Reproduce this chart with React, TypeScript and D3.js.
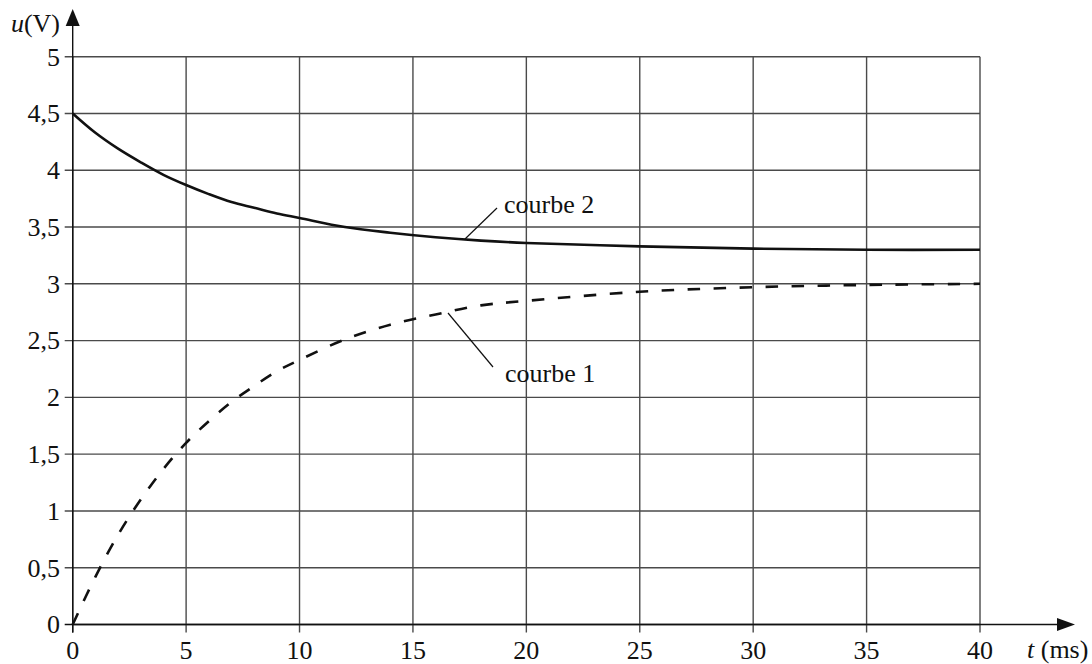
import React from "react";
import * as d3 from "d3";

const timeMs = [0, 1, 2, 3, 4, 5, 6, 7, 8, 9, 10, 12, 14, 16, 18, 20, 25, 30, 35, 40];
const courbe1 = [0, 0.42, 0.79, 1.1, 1.37, 1.6, 1.79, 1.96, 2.1, 2.23, 2.33, 2.51, 2.64, 2.73, 2.81, 2.85, 2.93, 2.97, 2.99, 3.0];
const courbe2 = [4.5, 4.33, 4.19, 4.07, 3.96, 3.87, 3.79, 3.72, 3.67, 3.62, 3.58, 3.5, 3.45, 3.41, 3.38, 3.36, 3.33, 3.31, 3.3, 3.3];
const xTicks = [0, 5, 10, 15, 20, 25, 30, 35, 40];
const yTicks = [0, 0.5, 1, 1.5, 2, 2.5, 3, 3.5, 4, 4.5, 5];

const W = 1092;
const H = 664;

export default function App() {
  const x = d3.scaleLinear().domain([0, 40]).range([72.7, 980]);
  const y = d3.scaleLinear().domain([0, 5]).range([624.5, 56.7]);
  const fmt = (v: number) => String(v).replace(".", ",");

  const line = d3
    .line<number>()
    .x((_, i) => x(timeMs[i]))
    .y((d) => y(d))
    .curve(d3.curveCatmullRom.alpha(0.5));

  const x0 = x(0);
  const y0 = y(0);
  const grid = "#4a4a4a";
  const fs = 26;
  const tp = { fontFamily: "Liberation Serif", fontSize: fs, fill: "#111" };

  return (
    <div style={{ position: "absolute", left: 0, top: 0, width: W, height: H, fontFamily: '"Liberation Serif"' }}>
      <svg width={W} height={H} style={{ display: "block", background: "#fff" }}>
        {yTicks.map((v) => (
          <line key={"h" + v} x1={x0 - 8} x2={x(40)} y1={y(v)} y2={y(v)} stroke={v === 0 ? "#111" : grid} strokeWidth={1.4} />
        ))}
        {xTicks.map((v) => (
          <line key={"v" + v} x1={x(v)} x2={x(v)} y1={y(5)} y2={y0 + 8} stroke={v === 0 ? "#111" : grid} strokeWidth={1.4} />
        ))}
        <line x1={x0} x2={x0} y1={y0 + 8} y2={22} stroke="#111" strokeWidth={1.4} />
        <line x1={x0} x2={1062} y1={y0} y2={y0} stroke="#111" strokeWidth={1.4} />
        <path d={`M${x0},9 L${x0 + 7},26 L${x0 - 7},26 Z`} fill="#111" />
        <path d={`M1075,${y0} L1057,${y0 - 6.5} L1057,${y0 + 6.5} Z`} fill="#111" />

        {yTicks.map((v) => (
          <text key={"yl" + v} x={60} y={y(v)} dy="0.34em" textAnchor="end" {...tp}>
            {fmt(v)}
          </text>
        ))}
        {xTicks.map((v) => (
          <text key={"xl" + v} x={x(v)} y={659} textAnchor="middle" {...tp}>
            {fmt(v)}
          </text>
        ))}

        <text x={60} y={32} textAnchor="end" {...tp}>
          <tspan fontStyle="italic">u</tspan>(V)
        </text>
        <text x={1027} y={658} {...tp}>
          <tspan fontStyle="italic">t</tspan> (ms)
        </text>

        <path d={line(courbe2) || ""} fill="none" stroke="#111" strokeWidth={2.6} />
        <path d={line(courbe1) || ""} fill="none" stroke="#111" strokeWidth={2.6} strokeDasharray="12.5,13.5" />

        <line x1={465} y1={239} x2={497} y2={208} stroke="#111" strokeWidth={1.2} />
        <text x={504} y={213} {...tp}>courbe 2</text>
        <line x1={448} y1={313} x2={493} y2={367} stroke="#111" strokeWidth={1.2} />
        <text x={505} y={382} {...tp}>courbe 1</text>
      </svg>
    </div>
  );
}
